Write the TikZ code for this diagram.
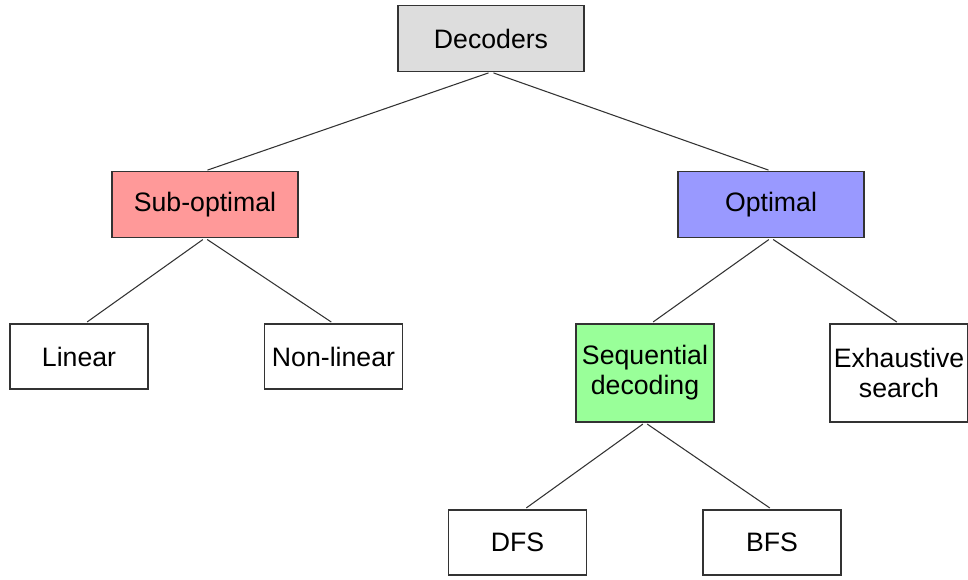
\documentclass[tikz,border=0pt]{standalone}
\usepackage{fontspec}
\setmainfont{Liberation Sans}
\usepackage{tikz}
\usetikzlibrary{positioning}
\definecolor{boxline}{HTML}{333333}
\definecolor{rootgray}{HTML}{DDDDDD}
\definecolor{subred}{HTML}{FF9999}
\definecolor{optblue}{HTML}{9999FF}
\definecolor{seqgreen}{HTML}{99FF99}

\begin{document}
\begin{tikzpicture}[x=0.75pt,y=-0.75pt,
  box/.style={draw=boxline,line width=0.8pt,align=center,inner sep=0pt,font=\fontsize{20pt}{22.5pt}\selectfont},
  wide/.style={box,minimum width=139.5pt,minimum height=49.5pt},
  narrow/.style={box,minimum width=103.5pt,minimum height=48.75pt},
  tall/.style={box,minimum width=103.5pt,minimum height=73.5pt},
  link/.style={draw=boxline,line width=0.8pt,shorten <=2pt,shorten >=2pt}]
\useasboundingbox (0,0) rectangle (968,579);
\node[wide,fill=rootgray] (decoders) at (491,38.5) {Decoders};
\node[wide,fill=subred] (subopt) at (205,204.5) {Sub-optimal};
\node[wide,fill=optblue] (optimal) at (771,204.5) {Optimal};
\node[narrow] (linear) at (79,356.5) {Linear};
\node[narrow] (nonlinear) at (333.5,356.5) {Non-linear};
\node[tall,fill=seqgreen] (sequential) at (645,373) {Sequential\\decoding};
\node[tall] (exhaustive) at (899,373) {Exhaustive\\search};
\node[narrow] (dfs) at (517.5,542.5) {DFS};
\node[narrow] (bfs) at (772,542.5) {BFS};
\draw[link] (decoders.south) -- (subopt.north);
\draw[link] (decoders.south) -- (optimal.north);
\draw[link] (subopt.south) -- ([xshift=4.5pt]linear.north);
\draw[link] (subopt.south) -- (nonlinear.north);
\draw[link] (optimal.south) -- ([xshift=4.5pt]sequential.north);
\draw[link] (optimal.south) -- (exhaustive.north);
\draw[link] (sequential.south) -- ([xshift=5pt]dfs.north);
\draw[link] (sequential.south) -- (bfs.north);
\end{tikzpicture}
\end{document}
